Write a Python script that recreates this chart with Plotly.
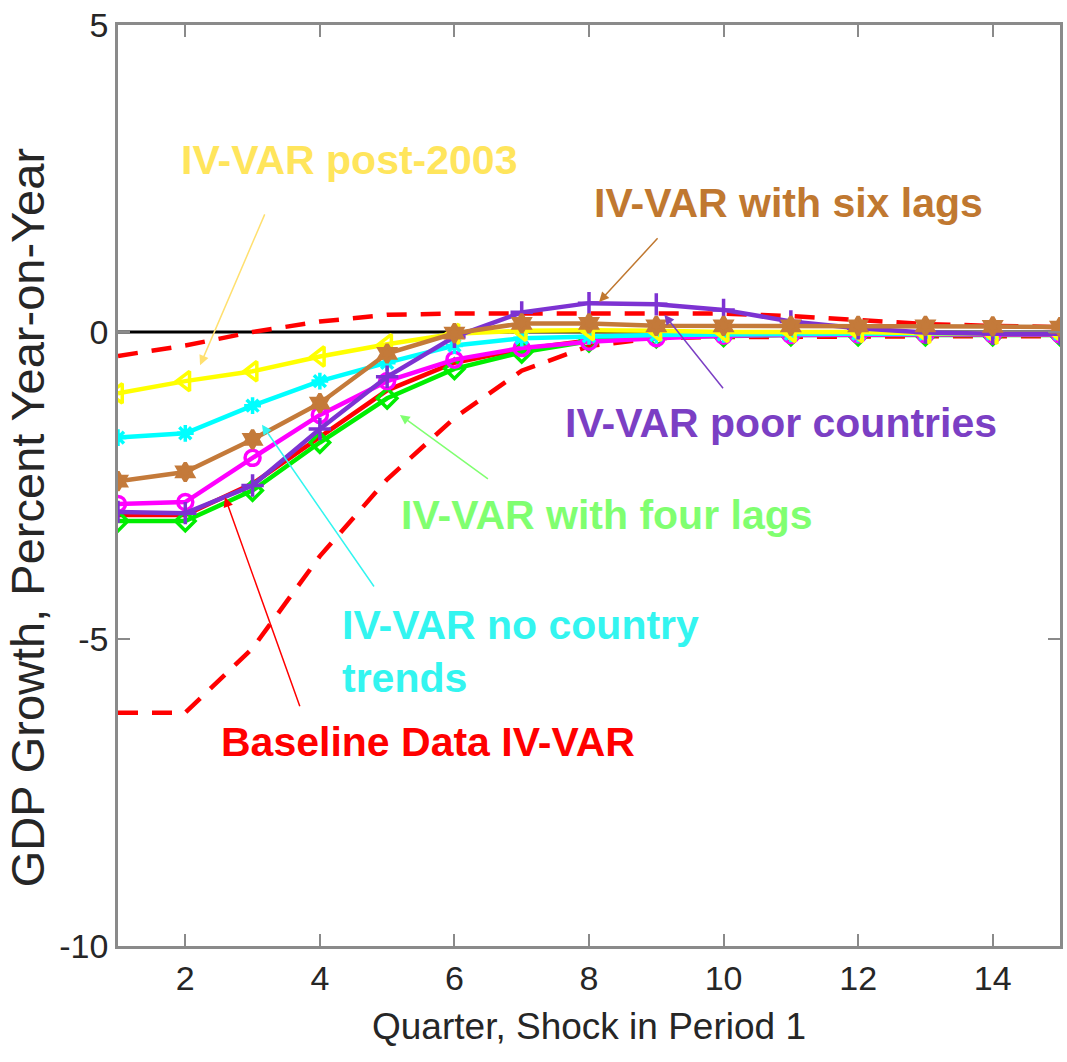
import plotly.graph_objects as go

# Impulse responses of GDP growth (percent, year-on-year) to a shock in quarter 1
quarters = list(range(1, 16))

band_upper = [-0.39, -0.22, 0.0, 0.17, 0.28, 0.30, 0.30, 0.30, 0.30, 0.30, 0.26, 0.20, 0.13, 0.10, 0.08]
band_lower = [-6.2, -6.2, -5.15, -3.65, -2.4, -1.4, -0.63, -0.23, -0.1, -0.08, -0.08, -0.07, -0.07, -0.07, -0.07]

baseline = [-2.98, -2.98, -2.47, -1.70, -0.95, -0.50, -0.28, -0.14, -0.08, -0.05, -0.04, -0.03, -0.03, -0.03, -0.03]
four_lags = [-3.08, -3.08, -2.58, -1.80, -1.08, -0.60, -0.33, -0.15, -0.08, -0.06, -0.05, -0.05, -0.05, -0.05, -0.05]
no_trends_magenta = [-2.80, -2.77, -2.05, -1.35, -0.80, -0.45, -0.26, -0.16, -0.10, -0.06, -0.05, -0.04, -0.04, -0.04, -0.04]
no_country_trends = [-1.72, -1.65, -1.20, -0.80, -0.50, -0.22, -0.10, -0.07, -0.05, -0.04, -0.03, -0.03, -0.03, -0.03, -0.03]
post_2003 = [-1.00, -0.80, -0.64, -0.40, -0.20, -0.03, 0.02, 0.03, 0.02, 0.0, 0.0, 0.0, -0.02, -0.03, -0.03]
poor_countries = [-2.93, -2.95, -2.50, -1.58, -0.73, -0.08, 0.32, 0.47, 0.45, 0.36, 0.17, 0.06, -0.01, -0.03, -0.03]
six_lags = [-2.43, -2.28, -1.75, -1.16, -0.35, -0.02, 0.14, 0.14, 0.10, 0.10, 0.10, 0.10, 0.10, 0.09, 0.08]

zero_line = [0.0] * len(quarters)

x_ticks = [2, 4, 6, 8, 10, 12, 14]
y_ticks = [5, 0, -5, -10]
y_tick_text = ["5", "0", "-5", "-10"]

AXIS_FONT = "Liberation Sans, Arial, sans-serif"

fig = go.Figure()

fig.add_trace(go.Scatter(x=quarters, y=zero_line, mode="lines",
                         line=dict(color="black", width=3), hoverinfo="skip"))

for band in (band_upper, band_lower):
    fig.add_trace(go.Scatter(x=quarters, y=band, mode="lines",
                             line=dict(color="#ff0000", width=4.5, dash="20px,14px")))

series = [
    (baseline, "#ff0000", None, 0),
    (four_lags, "#00ee00", "diamond-open", 15),
    (no_trends_magenta, "#ff00ff", "circle-open", 15),
    (no_country_trends, "#00ffff", "asterisk-open", 14),
    (post_2003, "#ffff00", "triangle-left-open", 17),
    (poor_countries, "#7d32d2", "cross-thin-open", 16),
    (six_lags, "#c47a3a", "hexagram", 14),
]

for values, color, symbol, size in series:
    if symbol is None:
        fig.add_trace(go.Scatter(x=quarters, y=values, mode="lines",
                                 line=dict(color=color, width=4.5)))
    else:
        fig.add_trace(go.Scatter(x=quarters, y=values, mode="lines+markers",
                                 line=dict(color=color, width=4.5),
                                 marker=dict(symbol=symbol, size=size, color=color,
                                             line=dict(color=color, width=3.5))))

# Labels with arrows pointing to each response
labels = [
    dict(text="IV-VAR post-2003", x=4.44, y=2.80, color="#ffe55c",
         head=(2.22, -0.54), tail=(3.19, 1.94), arrow="#ffe070"),
    dict(text="IV-VAR with six lags", x=10.97, y=2.10, color="#c07830",
         head=(8.15, 0.49), tail=(9.04, 1.55), arrow="#c07830"),
    dict(text="IV-VAR poor countries", x=10.85, y=-1.48, color="#7b3fc4",
         head=(9.12, 0.28), tail=(10.01, -0.94), arrow="#7b3fc4"),
    dict(text="IV-VAR with four lags", x=8.27, y=-2.98, color="#80ff70",
         head=(5.19, -1.35), tail=(6.52, -2.41), arrow="#80ff70"),
    dict(text="Baseline Data IV-VAR", x=5.61, y=-6.68, color="#ff0000",
         head=(2.59, -2.69), tail=(3.71, -6.12), arrow="#ff0000"),
]

annotations = []
for lab in labels:
    annotations.append(dict(x=lab["x"], y=lab["y"], xref="x", yref="y", text="<b>%s</b>" % lab["text"],
                            showarrow=False, font=dict(family=AXIS_FONT, size=41, color=lab["color"])))
    annotations.append(dict(x=lab["head"][0], y=lab["head"][1], ax=lab["tail"][0], ay=lab["tail"][1],
                            xref="x", yref="y", axref="x", ayref="y", text="", showarrow=True,
                            arrowhead=2, arrowsize=1.3, arrowwidth=1.5, arrowcolor=lab["arrow"]))

annotations.append(dict(x=4.30, y=-5.2, xref="x", yref="y", xanchor="left", align="left",
                        text="<b>IV-VAR no country<br>trends</b>", showarrow=False,
                        font=dict(family=AXIS_FONT, size=41, color="#33f5f0")))
annotations.append(dict(x=3.14, y=-1.51, ax=4.82, ay=-4.17, xref="x", yref="y", axref="x", ayref="y",
                        text="", showarrow=True, arrowhead=2, arrowsize=1.3, arrowwidth=1.5,
                        arrowcolor="#33f5f0"))

# Vertical axis title
annotations.append(dict(x=-0.096, y=0.465, xref="paper", yref="paper", xanchor="center", yanchor="middle",
                        text="GDP Growth, Percent Year-on-Year", textangle=-90, showarrow=False,
                        font=dict(family=AXIS_FONT, size=47, color="#262626")))

axis_common = dict(showline=True, linecolor="#8a8a8a", linewidth=2.5, mirror="ticks",
                   ticks="inside", ticklen=12, tickwidth=2, tickcolor="#8a8a8a",
                   showgrid=False, zeroline=False,
                   tickfont=dict(family=AXIS_FONT, size=34, color="#262626"))

fig.update_layout(
    width=1067, height=1062,
    margin=dict(l=118, r=4, t=25, b=116),
    paper_bgcolor="white", plot_bgcolor="white",
    showlegend=False,
    annotations=annotations,
    xaxis=dict(range=[1, 15], tickvals=x_ticks,
               title=dict(text="Quarter, Shock in Period 1", standoff=18,
                          font=dict(family=AXIS_FONT, size=37, color="#262626")),
               **axis_common),
    yaxis=dict(range=[-10, 5], tickvals=y_ticks, ticktext=y_tick_text, **axis_common),
)

fig.write_html("out.html")
